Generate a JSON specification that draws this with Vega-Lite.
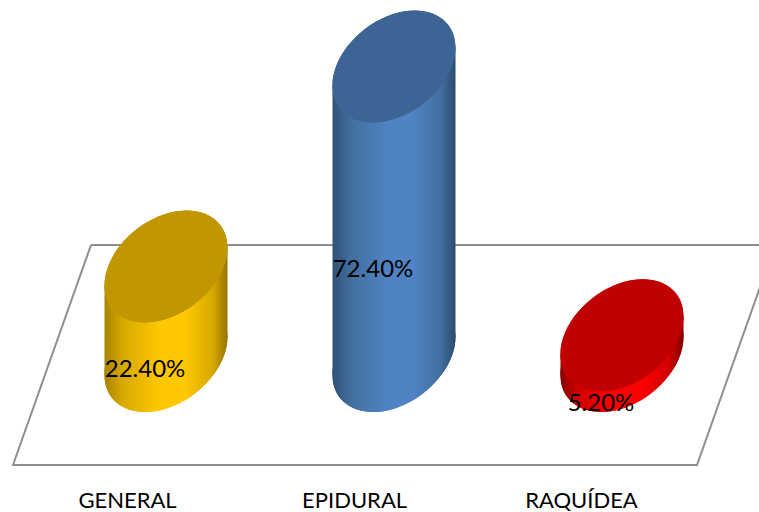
{
  "$schema": "https://vega.github.io/schema/vega-lite/v6.json",
  "width": 759,
  "height": 470,
  "padding": {"left": 0, "top": 0, "right": 0, "bottom": 42},
  "autosize": "none",
  "background": "white",
  "view": {"stroke": null},
  "config": {"font": "Lato"},
  "resolve": {"axis": {"x": "independent"}},
  "datasets": {
    "anesthesia": [
      {"method": "GENERAL", "share": 0.224},
      {"method": "EPIDURAL", "share": 0.724},
      {"method": "RAQUÍDEA", "share": 0.052}
    ],
    "floor": [
      {"step": 0, "fx": -0.329, "fy": 0.2775},
      {"step": 1, "fx": 2.671, "fy": 0.2775},
      {"step": 2, "fx": 2.329, "fy": -0.2725},
      {"step": 3, "fx": -0.671, "fy": -0.2725},
      {"step": 4, "fx": -0.329, "fy": 0.2775}
    ]
  },
  "layer": [
    {
      "data": {"name": "floor"},
      "mark": {"type": "line", "stroke": "#8E8E8E", "strokeWidth": 2, "clip": true},
      "encoding": {
        "x": {
          "field": "fx", "type": "quantitative",
          "scale": {"domain": [-0.7281, 2.6009], "nice": false, "zero": false},
          "axis": {
            "values": [-0.171, 0.825, 1.82],
            "labelExpr": "datum.value < 0 ? 'GENERAL' : datum.value < 1 ? 'EPIDURAL' : 'RAQUÍDEA'",
            "domain": false, "ticks": false, "grid": false, "title": null,
            "labelFont": "Lato", "labelFontSize": 22, "labelColor": "#000000",
            "labelPadding": 20, "labelOverlap": false, "labelFlush": false
          }
        },
        "y": {"field": "fy", "type": "quantitative", "scale": {"domain": [-0.285, 0.89], "nice": false, "zero": false}, "axis": null},
        "order": {"field": "step", "type": "ordinal"}
      }
    },
    {
      "data": {"name": "anesthesia"},
      "transform": [
        {"filter": "datum.method === 'GENERAL'"},
        {"calculate": "indexof(['GENERAL','EPIDURAL','RAQUÍDEA'], datum.method)", "as": "pos"},
        {"calculate": "[-1, 1]", "as": "edge"},
        {"flatten": ["edge"]},
        {"calculate": "datum.pos + datum.edge * 0.2697", "as": "side"},
        {"calculate": "datum.share + datum.edge * 0.0476", "as": "top"},
        {"calculate": "datum.edge * 0.0476", "as": "base"}
      ],
      "layer": [
        {
          "mark": {"type": "point", "filled": true, "opacity": 1, "strokeWidth": 0, "size": 15129,
            "shape": "M1,-0.3096 C1,-0.7825 0.5523,-1.0273 0,-0.8563 C-0.5523,-0.6853 -1,-0.1633 -1,0.3096 C-1,0.7825 -0.5523,1.0273 0,0.8563 C0.5523,0.6853 1,0.1633 1,-0.3096 Z",
            "color": {"gradient": "linear", "x1": 0, "x2": 1, "y1": 0, "y2": 0, "stops": [
              {"offset": 0, "color": "#A88400"}, {"offset": 0.15, "color": "#D8A900"}, {"offset": 0.45, "color": "#FFC800"}, {"offset": 0.65, "color": "#FFC800"}, {"offset": 0.88, "color": "#D8A900"}, {"offset": 1, "color": "#947400"}]}},
          "encoding": {
            "x": {"field": "pos", "type": "quantitative", "scale": {"domain": [-0.7281, 2.6009], "nice": false, "zero": false}, "axis": null},
            "y": {"datum": 0, "type": "quantitative", "scale": {"domain": [-0.285, 0.89], "nice": false, "zero": false}, "axis": null}
          }
        },
        {
          "mark": {"type": "area", "opacity": 1,
            "color": {"gradient": "linear", "x1": 0, "x2": 1, "y1": 0, "y2": 0, "stops": [
              {"offset": 0, "color": "#A88400"}, {"offset": 0.15, "color": "#D8A900"}, {"offset": 0.45, "color": "#FFC800"}, {"offset": 0.65, "color": "#FFC800"}, {"offset": 0.88, "color": "#D8A900"}, {"offset": 1, "color": "#947400"}]}},
          "encoding": {
            "x": {"field": "side", "type": "quantitative", "scale": {"domain": [-0.7281, 2.6009], "nice": false, "zero": false}, "axis": null},
            "y": {"field": "top", "type": "quantitative", "scale": {"domain": [-0.285, 0.89], "nice": false, "zero": false}, "axis": null},
            "y2": {"field": "base"}
          }
        },
        {
          "mark": {"type": "point", "filled": true, "opacity": 1, "strokeWidth": 0, "size": 15129, "color": "#C09700",
            "shape": "M1,-0.3096 C1,-0.7825 0.5523,-1.0273 0,-0.8563 C-0.5523,-0.6853 -1,-0.1633 -1,0.3096 C-1,0.7825 -0.5523,1.0273 0,0.8563 C0.5523,0.6853 1,0.1633 1,-0.3096 Z"},
          "encoding": {
            "x": {"field": "pos", "type": "quantitative", "scale": {"domain": [-0.7281, 2.6009], "nice": false, "zero": false}, "axis": null},
            "y": {"field": "share", "type": "quantitative", "scale": {"domain": [-0.285, 0.89], "nice": false, "zero": false}, "axis": null}
          }
        }
      ]
    },
    {
      "data": {"name": "anesthesia"},
      "transform": [
        {"filter": "datum.method === 'EPIDURAL'"},
        {"calculate": "indexof(['GENERAL','EPIDURAL','RAQUÍDEA'], datum.method)", "as": "pos"},
        {"calculate": "[-1, 1]", "as": "edge"},
        {"flatten": ["edge"]},
        {"calculate": "datum.pos + datum.edge * 0.2697", "as": "side"},
        {"calculate": "datum.share + datum.edge * 0.0476", "as": "top"},
        {"calculate": "datum.edge * 0.0476", "as": "base"}
      ],
      "layer": [
        {
          "mark": {"type": "point", "filled": true, "opacity": 1, "strokeWidth": 0, "size": 15129,
            "shape": "M1,-0.3096 C1,-0.7825 0.5523,-1.0273 0,-0.8563 C-0.5523,-0.6853 -1,-0.1633 -1,0.3096 C-1,0.7825 -0.5523,1.0273 0,0.8563 C0.5523,0.6853 1,0.1633 1,-0.3096 Z",
            "color": {"gradient": "linear", "x1": 0, "x2": 1, "y1": 0, "y2": 0, "stops": [
              {"offset": 0, "color": "#2F5176"}, {"offset": 0.15, "color": "#426F9F"}, {"offset": 0.45, "color": "#5083C4"}, {"offset": 0.65, "color": "#5083C4"}, {"offset": 0.88, "color": "#426F9F"}, {"offset": 1, "color": "#2B4B6E"}]}},
          "encoding": {
            "x": {"field": "pos", "type": "quantitative", "scale": {"domain": [-0.7281, 2.6009], "nice": false, "zero": false}, "axis": null},
            "y": {"datum": 0, "type": "quantitative", "scale": {"domain": [-0.285, 0.89], "nice": false, "zero": false}, "axis": null}
          }
        },
        {
          "mark": {"type": "area", "opacity": 1,
            "color": {"gradient": "linear", "x1": 0, "x2": 1, "y1": 0, "y2": 0, "stops": [
              {"offset": 0, "color": "#2F5176"}, {"offset": 0.15, "color": "#426F9F"}, {"offset": 0.45, "color": "#5083C4"}, {"offset": 0.65, "color": "#5083C4"}, {"offset": 0.88, "color": "#426F9F"}, {"offset": 1, "color": "#2B4B6E"}]}},
          "encoding": {
            "x": {"field": "side", "type": "quantitative", "scale": {"domain": [-0.7281, 2.6009], "nice": false, "zero": false}, "axis": null},
            "y": {"field": "top", "type": "quantitative", "scale": {"domain": [-0.285, 0.89], "nice": false, "zero": false}, "axis": null},
            "y2": {"field": "base"}
          }
        },
        {
          "mark": {"type": "point", "filled": true, "opacity": 1, "strokeWidth": 0, "size": 15129, "color": "#3C6494",
            "shape": "M1,-0.3096 C1,-0.7825 0.5523,-1.0273 0,-0.8563 C-0.5523,-0.6853 -1,-0.1633 -1,0.3096 C-1,0.7825 -0.5523,1.0273 0,0.8563 C0.5523,0.6853 1,0.1633 1,-0.3096 Z"},
          "encoding": {
            "x": {"field": "pos", "type": "quantitative", "scale": {"domain": [-0.7281, 2.6009], "nice": false, "zero": false}, "axis": null},
            "y": {"field": "share", "type": "quantitative", "scale": {"domain": [-0.285, 0.89], "nice": false, "zero": false}, "axis": null}
          }
        }
      ]
    },
    {
      "data": {"name": "anesthesia"},
      "transform": [
        {"filter": "datum.method === 'RAQUÍDEA'"},
        {"calculate": "indexof(['GENERAL','EPIDURAL','RAQUÍDEA'], datum.method)", "as": "pos"},
        {"calculate": "[-1, 1]", "as": "edge"},
        {"flatten": ["edge"]},
        {"calculate": "datum.pos + datum.edge * 0.2697", "as": "side"},
        {"calculate": "datum.share + datum.edge * 0.0476", "as": "top"},
        {"calculate": "datum.edge * 0.0476", "as": "base"}
      ],
      "layer": [
        {
          "mark": {"type": "point", "filled": true, "opacity": 1, "strokeWidth": 0, "size": 15129,
            "shape": "M1,-0.3096 C1,-0.7825 0.5523,-1.0273 0,-0.8563 C-0.5523,-0.6853 -1,-0.1633 -1,0.3096 C-1,0.7825 -0.5523,1.0273 0,0.8563 C0.5523,0.6853 1,0.1633 1,-0.3096 Z",
            "color": {"gradient": "linear", "x1": 0, "x2": 1, "y1": 0, "y2": 0, "stops": [
              {"offset": 0, "color": "#8A0000"}, {"offset": 0.15, "color": "#D20000"}, {"offset": 0.45, "color": "#FF0000"}, {"offset": 0.65, "color": "#FF0000"}, {"offset": 0.88, "color": "#D20000"}, {"offset": 1, "color": "#7F0000"}]}},
          "encoding": {
            "x": {"field": "pos", "type": "quantitative", "scale": {"domain": [-0.7281, 2.6009], "nice": false, "zero": false}, "axis": null},
            "y": {"datum": 0, "type": "quantitative", "scale": {"domain": [-0.285, 0.89], "nice": false, "zero": false}, "axis": null}
          }
        },
        {
          "mark": {"type": "area", "opacity": 1,
            "color": {"gradient": "linear", "x1": 0, "x2": 1, "y1": 0, "y2": 0, "stops": [
              {"offset": 0, "color": "#8A0000"}, {"offset": 0.15, "color": "#D20000"}, {"offset": 0.45, "color": "#FF0000"}, {"offset": 0.65, "color": "#FF0000"}, {"offset": 0.88, "color": "#D20000"}, {"offset": 1, "color": "#7F0000"}]}},
          "encoding": {
            "x": {"field": "side", "type": "quantitative", "scale": {"domain": [-0.7281, 2.6009], "nice": false, "zero": false}, "axis": null},
            "y": {"field": "top", "type": "quantitative", "scale": {"domain": [-0.285, 0.89], "nice": false, "zero": false}, "axis": null},
            "y2": {"field": "base"}
          }
        },
        {
          "mark": {"type": "point", "filled": true, "opacity": 1, "strokeWidth": 0, "size": 15129, "color": "#C00000",
            "shape": "M1,-0.3096 C1,-0.7825 0.5523,-1.0273 0,-0.8563 C-0.5523,-0.6853 -1,-0.1633 -1,0.3096 C-1,0.7825 -0.5523,1.0273 0,0.8563 C0.5523,0.6853 1,0.1633 1,-0.3096 Z"},
          "encoding": {
            "x": {"field": "pos", "type": "quantitative", "scale": {"domain": [-0.7281, 2.6009], "nice": false, "zero": false}, "axis": null},
            "y": {"field": "share", "type": "quantitative", "scale": {"domain": [-0.285, 0.89], "nice": false, "zero": false}, "axis": null}
          }
        }
      ]
    },
    {
      "data": {"name": "anesthesia"},
      "transform": [
        {"calculate": "indexof(['GENERAL','EPIDURAL','RAQUÍDEA'], datum.method)", "as": "pos"},
        {"calculate": "datum.share / 2 - 0.147", "as": "labelAt"}
      ],
      "mark": {"type": "text", "font": "Lato", "fontSize": 24, "color": "#000000", "dx": -21, "align": "center", "baseline": "middle"},
      "encoding": {
        "x": {"field": "pos", "type": "quantitative", "scale": {"domain": [-0.7281, 2.6009], "nice": false, "zero": false}, "axis": null},
        "y": {"field": "labelAt", "type": "quantitative", "scale": {"domain": [-0.285, 0.89], "nice": false, "zero": false}, "axis": null},
        "text": {"field": "share", "type": "quantitative", "format": ".2%"}
      }
    }
  ]
}
